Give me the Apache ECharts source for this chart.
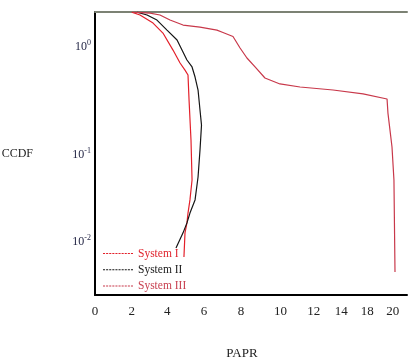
<!DOCTYPE html>
<html><head><meta charset="utf-8">
<script src="https://cdn.jsdelivr.net/npm/echarts@6/dist/echarts.min.js"></script>
<style>html,body{margin:0;padding:0;background:#fff}#c{width:419px;height:362px}</style>
</head><body><div id="c"></div>
<script>
// x tick labels and where they sit on the axis (axis units)
const xTickLabels = ['0','2','4','6','8','10','12','14','18','20'];
const xTickPos = [0, 2.45, 4.82, 7.27, 9.73, 12.37, 14.59, 16.41, 18.15, 19.85];
const seriesNames = ['System I', 'System II', 'System III'];

const sys1X = [2.45,3.0,3.87,4.53,5.2,5.67,6.0,6.2,6.27,6.4,6.47,6.33,6.2,6.13,6.0,5.93];
const sys1Y = [2.28,2.13,1.76,1.39,0.93,0.685,0.58,0.516,0.286,0.111,0.0432,0.027,0.0198,0.0157,0.0124,0.00702];

const sys2X = [2.8,3.47,4.13,4.8,5.47,5.8,6.13,6.47,6.67,6.87,7.0,7.1,7.0,6.87,6.67,6.33,6.13,5.87,5.4];
const sys2Y = [2.28,2.13,1.89,1.49,1.18,0.93,0.736,0.624,0.492,0.362,0.226,0.158,0.0879,0.0464,0.027,0.0198,0.0157,0.0124,0.00867];

const sys3X = [2.53,3.67,4.33,5.0,5.87,7.0,8.13,8.53,9.2,9.67,10.13,10.67,11.33,12.33,13.67,15.87,17.87,19.47,19.53,19.8,19.93,20.0];
const sys3Y = [2.28,2.23,2.13,1.89,1.68,1.60,1.49,1.41,1.28,0.977,0.771,0.624,0.481,0.418,0.389,0.362,0.330,0.293,0.210,0.0942,0.0432,0.00492];

const colors = ['#e3202a', '#151515', '#c8384a'];
const textColors = ['#e0242e', '#1a1a1a', '#c84050'];
const pairs = (xs, ys) => xs.map((x, i) => [x, ys[i]]);
const serif = '"Liberation Serif","Times New Roman",serif';

let dash = 'path://';
for (let i = 0; i < 10; i++) dash += 'M' + (i * 3) + ',0h2v1h-2z';

const labelColor = '#1e2040';
const chart = echarts.init(document.getElementById('c'), null, {renderer: 'canvas'});
chart.setOption({
  animation: false,
  backgroundColor: '#fff',
  grid: {left: 95, right: 12, top: 12, bottom: 67, outerBoundsMode: 'none', containLabel: false},
  legend: {
    orient: 'vertical', left: 103, top: 246.5, padding: 0,
    itemWidth: 30, itemHeight: 2, itemGap: 2.3,
    textStyle: {fontFamily: serif, fontSize: 11.5, lineHeight: 14},
    data: seriesNames.map((n, i) => ({name: n, icon: dash, textStyle: {color: textColors[i]}}))
  },
  xAxis: [{
    type: 'value', min: 0, max: 20.8, position: 'bottom',
    name: 'PAPR', nameLocation: 'middle', nameGap: 52,
    nameTextStyle: {fontFamily: serif, fontSize: 13, color: '#222', padding: [0, 18, 0, 0]},
    axisLine: {show: true, lineStyle: {color: '#000', width: 2}},
    axisTick: {show: false}, splitLine: {show: false},
    axisLabel: {
      customValues: xTickPos, margin: 10,
      fontFamily: serif, fontSize: 13, color: '#222',
      formatter: v => { const i = xTickPos.findIndex(p => Math.abs(p - v) < 1e-6); return i >= 0 ? xTickLabels[i] : ''; }
    }
  }, {
    type: 'value', min: 0, max: 20.8, position: 'top',
    axisLine: {show: true, lineStyle: {color: '#7c8274', width: 2}},
    axisTick: {show: false}, axisLabel: {show: false}, splitLine: {show: false}
  }],
  yAxis: [{
    type: 'log', logBase: 10, min: 0.002858, max: 2.286, position: 'left',
    name: 'CCDF', nameLocation: 'middle', nameRotate: 0, nameGap: 62,
    nameTextStyle: {fontFamily: serif, fontSize: 12, color: '#222', padding: [4, 0, 0, 0]},
    axisLine: {show: true, lineStyle: {color: '#000', width: 2}},
    axisTick: {show: false}, splitLine: {show: false},
    axisLabel: {
      margin: 4, showMinLabel: false, showMaxLabel: false,
      formatter: v => {
        const l = Math.log10(v), e = Math.round(l);
        if (Math.abs(l - e) > 1e-6) return '';
        if (e === -1) return '{sp|}\n{b|10}{s|' + e + '}';
        return '{b|10}{s|' + e + '}';
      },
      rich: {
        b: {fontFamily: serif, fontSize: 12, color: labelColor, lineHeight: 16},
        s: {fontFamily: serif, fontSize: 8, color: labelColor, verticalAlign: 'top', lineHeight: 10},
        sp: {fontSize: 8, lineHeight: 20}
      }
    }
  }, {
    type: 'log', logBase: 10, min: 0.002858, max: 2.286, position: 'right',
    axisLine: {show: true, lineStyle: {color: '#000', width: 1.5}},
    axisTick: {show: false}, axisLabel: {show: false}, splitLine: {show: false}
  }],
  series: [
    {name: seriesNames[0], type: 'line', data: pairs(sys1X, sys1Y)},
    {name: seriesNames[1], type: 'line', data: pairs(sys2X, sys2Y)},
    {name: seriesNames[2], type: 'line', data: pairs(sys3X, sys3Y)}
  ].map((s, i) => Object.assign(s, {
    showSymbol: false, symbol: 'none', clip: true,
    itemStyle: {color: colors[i]},
    lineStyle: {color: colors[i], width: 1.2}
  }))
});
</script>
</body></html>
